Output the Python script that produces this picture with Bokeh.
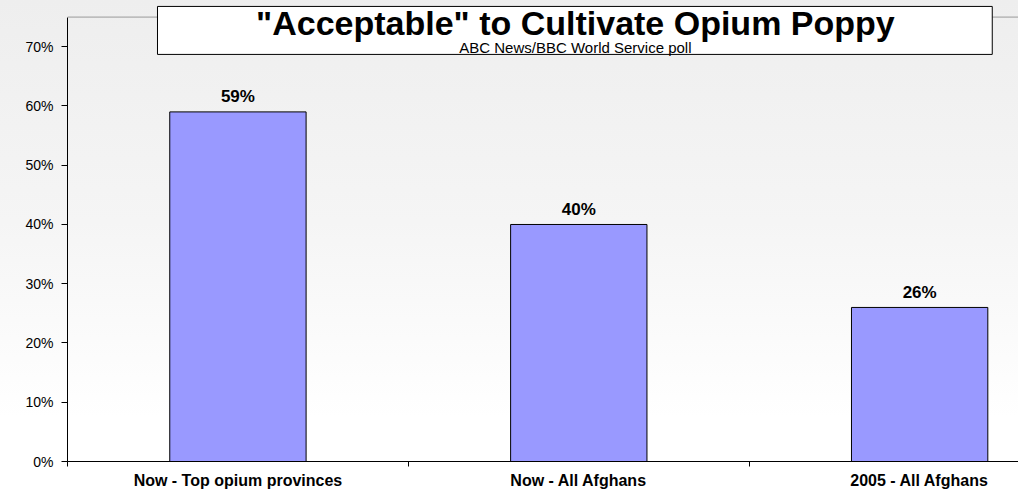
from bokeh.plotting import figure
from bokeh.models import ColumnDataSource, Range1d, FixedTicker, Span, BoxAnnotation, Label
from bokeh.core.properties import value
from bokeh.embed import file_html
from bokeh.resources import INLINE

# ---- data ----
categories = ["Now - Top opium provinces", "Now - All Afghans", "2005 - All Afghans"]
values = [59, 40, 26]
y_ticks = [0, 10, 20, 30, 40, 50, 60, 70]
y_tick_labels = ["0%", "10%", "20%", "30%", "40%", "50%", "60%", "70%"]
title_text = '"Acceptable" to Cultivate Opium Poppy'
subtitle_text = "ABC News/BBC World Service poll"

FONT = "Liberation Sans"

xs = [i + 0.5 for i in range(len(categories))]
src = ColumnDataSource(dict(x=xs, top=values, label=[f"{v}%" for v in values]))

p = figure(width=1018, height=491, output_backend="svg", toolbar_location=None,
           x_range=Range1d(0, 2.79), y_range=Range1d(0, 77.8),
           min_border_left=67, min_border_right=0, min_border_top=0, min_border_bottom=30)

p.background_fill_alpha = 0
p.border_fill_alpha = 0
p.styles = {"background": "linear-gradient(to bottom, #eeeeee 0%, #f5f5f5 45%, #ffffff 85%)"}
p.outline_line_color = None
p.grid.visible = False

p.vbar(x="x", top="top", bottom=0, width=0.4, source=src,
       fill_color="#9999ff", line_color="black", line_width=1)

p.text(x="x", y="top", text="label", source=src, y_offset=-15,
       text_align="center", text_baseline="middle",
       text_font=value(FONT), text_font_style="bold", text_font_size="17px", text_color="black")

# x axis
xa = p.xaxis[0]
xa.ticker = FixedTicker(ticks=xs, minor_ticks=list(range(len(categories))))
xa.major_label_overrides = {x: c for x, c in zip(xs, categories)}
xa.major_tick_out = 0
xa.major_tick_in = 0
xa.minor_tick_out = 5
xa.minor_tick_in = 0
xa.minor_tick_line_color = "black"
xa.axis_line_color = "black"
xa.major_label_standoff = 5
xa.major_label_text_font = FONT
xa.major_label_text_font_style = "bold"
xa.major_label_text_font_size = "16px"
xa.major_label_text_color = "black"

# y axis
ya = p.yaxis[0]
ya.ticker = FixedTicker(ticks=y_ticks)
ya.major_label_overrides = {t: l for t, l in zip(y_ticks, y_tick_labels)}
ya.bounds = (0, 75)
ya.major_tick_out = 6
ya.major_tick_in = 0
ya.minor_tick_out = 0
ya.minor_tick_in = 0
ya.axis_line_color = "black"
ya.major_tick_line_color = "black"
ya.major_label_standoff = 8
ya.major_label_text_font = FONT
ya.major_label_text_font_size = "14px"
ya.major_label_text_color = "black"

# plot-area top border
p.add_layout(Span(location=75, dimension="width", line_color="#999999", line_width=1))

# title box
p.add_layout(BoxAnnotation(left=0.264, right=2.713, bottom=68.7, top=76.8,
                           fill_color="white", fill_alpha=1,
                           line_color="black", line_width=1, line_alpha=1))
p.add_layout(Label(x=1.49, y=74.0, text=title_text, text_align="center",
                   text_baseline="middle", text_font=FONT, text_font_style="bold",
                   text_font_size="34px", text_color="black"))
p.add_layout(Label(x=1.49, y=69.95, text=subtitle_text, text_align="center",
                   text_baseline="middle", text_font=FONT,
                   text_font_size="15px", text_color="black"))

open("out.html", "w").write(file_html(p, INLINE))
